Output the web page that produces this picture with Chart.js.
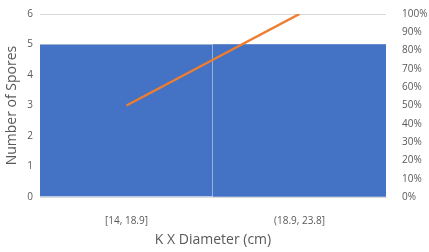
<!DOCTYPE html>
<html>
<head>
<meta charset="utf-8">
<script src="https://cdn.jsdelivr.net/npm/chart.js@4"></script>
<style>
  html, body { margin: 0; padding: 0; background: #fff; }
  #wrap { width: 429px; height: 252px; }
</style>
</head>
<body>
<div id="wrap"><canvas id="c"></canvas></div>
<script>
const categories = ['[14, 18.9]', '(18.9, 23.8]'];
const spores = [5, 5];
const cumulative = [0.5, 1.0];

const grey = '#595959';
const font = 'Open Sans';

let config = {
    data: {
        labels: categories,
        datasets: [{
            type: 'line',
            data: cumulative,
            yAxisID: 'y1',
            borderColor: '#ED7D31',
            borderWidth: 2.5,
            pointRadius: 0,
            order: 0,
        }, {
            type: 'bar',
            data: spores,
            yAxisID: 'y',
            backgroundColor: '#4472C4',
            borderColor: '#ffffff',
            borderWidth: (ctx) => ctx.dataIndex === 0 ? {right: 1, left: 0, top: 0, bottom: 0} : 0,
            borderSkipped: false,
            barPercentage: 1,
            categoryPercentage: 1,
            order: 1,
        }]
    },
    options: {
        responsive: true,
        maintainAspectRatio: false,
        animation: false,
        layout: { padding: { top: 12, left: 0, right: 0, bottom: 0 } },
        plugins: {
            legend: { display: false },
            tooltip: { enabled: false },
        },
        scales: {
            x: {
                grid: { display: false },
                border: { color: '#D9D9D9' },
                ticks: { color: grey, font: { family: font, size: 10 }, padding: 10 },
                title: {
                    display: true,
                    text: 'K X Diameter (cm)',
                    color: grey,
                    font: { family: font, size: 14 },
                    padding: { top: 6 },
                },
                afterFit: (s) => { s.height = 55; },
            },
            y: {
                position: 'left',
                min: 0,
                max: 6,
                ticks: { stepSize: 1, color: grey, font: { family: font, size: 10 }, padding: 7 },
                grid: { color: '#D9D9D9', drawTicks: false },
                border: { display: false },
                title: {
                    display: true,
                    text: 'Number of Spores',
                    color: grey,
                    font: { family: font, size: 14 },
                    padding: { bottom: 0 },
                },
                afterFit: (s) => { s.width = 40; },
            },
            y1: {
                position: 'right',
                min: 0,
                max: 1,
                ticks: {
                    stepSize: 0.1,
                    color: grey,
                    font: { family: font, size: 10 },
                    padding: 8,
                    callback: (v) => Math.round(v * 100) + '%',
                },
                grid: { display: false },
                border: { display: false },
                afterFit: (s) => { s.width = 43; },
            },
        },
    },
};

new Chart(document.getElementById('c'), config);
</script>
</body>
</html>
